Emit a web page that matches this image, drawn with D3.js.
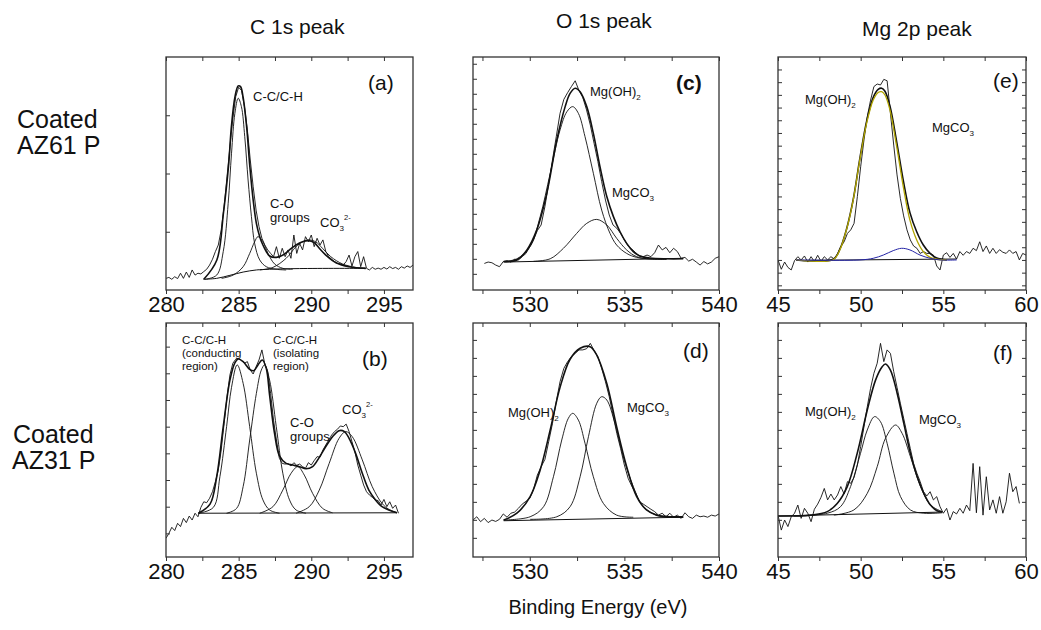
<!DOCTYPE html>
<html><head><meta charset="utf-8">
<script src="https://cdn.jsdelivr.net/npm/d3@7"></script>
<style>
body{margin:0;background:#fff;}
svg text{font-family:"Liberation Sans",Arial,Helvetica,sans-serif;fill:#111;}
</style></head>
<body><svg id="chart" width="1041" height="630"></svg>
<script>
// ---------------- DATA ----------------
const columnTitles = ["C 1s peak", "O 1s peak", "Mg 2p peak"];
const rowTitles = [["Coated", "AZ61 P"], ["Coated", "AZ31 P"]];
const xAxisTitle = "Binding Energy (eV)";
const xDomainC = [280, 297], xDomainO = [527, 540], xDomainMg = [45, 60];
const tickLabelsC = [280, 285, 290, 295], tickLabelsO = [530, 535, 540], tickLabelsMg = [45, 50, 55, 60];

// (a) Coated AZ61 P, C 1s  (raw spectrum on a 0.2 eV grid)
const aRawStart = 280.0, aRawStep = 0.2;
const aRaw = [5.0,5.4,4.6,5.7,4.9,7.2,5.0,7.7,5.4,8.6,
  6.4,7.2,6.9,7.9,8.9,10.7,13.2,16.5,19.3,25.8,
  35.8,48.6,61.5,73.7,83.0,87.0,85.6,78.7,68.7,55.8,
  44.3,34.3,27.2,22.2,19.3,17.2,15.7,14.3,18.6,13.6,
  17.9,14.3,17.2,13.6,23.6,15.7,20.0,17.2,22.9,20.7,
  23.6,18.6,22.2,19.3,21.5,16.5,14.3,13.2,12.2,11.4,
  11.2,10.7,12.2,15.0,10.3,14.3,16.5,10.0,14.3,9.3,
  8.6,9.7,8.9,9.4,8.9,9.7,9.0,10.0,9.2,9.7,
  8.9,10.0,9.4,10.3,9.7,10.7];
const aEnvelope = [[282.6,4.6],[283.5,12.9],[283.95,32.9],[284.3,52.9],[284.5,70],[284.75,83],[284.97,87.6],[285.13,87.3],[285.3,83],[285.55,70],[285.77,53],[286,38.6],[286.22,28.6],[286.45,22.9],[286.67,19.3],[286.9,16.5],[287.13,14.6],[287.6,14],[288.05,15],[288.5,17.2],[288.95,19.3],[289.4,20.7],[289.8,21.2],[290.2,20.3],[290.55,17.9],[291,15],[291.7,11.7],[292.6,10],[293.75,9.3]];
const aPeakCC = [[282.69,4.6],[283.49,6.4],[283.94,16.5],[284.28,37.2],[284.51,58.7],[284.74,75.8],[284.97,82.3],[285.19,78.7],[285.42,65.8],[285.65,47.2],[285.88,31.5],[286.1,20],[286.45,12.9],[286.9,10],[287.59,8.9],[288.27,8.6]];
const aPeakCO = [[283.83,5.0],[284.62,6.4],[285.31,10],[285.76,15.7],[286.1,20.7],[286.33,22.9],[286.67,20.7],[287.02,15.7],[287.47,11.2],[288.04,9.3],[288.72,8.9]];
const aPeakCO3 = [[286.45,8.6],[287.36,9.7],[288.27,13.6],[288.95,18.6],[289.41,20.7],[289.86,21.5],[290.32,20.6],[290.77,17.9],[291.34,14.3],[292.14,11.2],[293.05,9.7],[293.74,9.3]];
const aBackground = [[282.57,4.6],[283.49,5.0],[284.4,6.3],[285.31,7.7],[286.22,8.6],[287.13,8.9],[289.18,9.2],[293.74,9.3]];

// (c) Coated AZ61 P, O 1s
const cRawStart = 527.6, cRawStep = 0.2;
const cRaw = [11.4,12.0,11.7,10.7,10.0,12.2,12.6,12.0,13.2,12.9,
  14.3,15.7,18.6,21.5,25.5,27.9,35.8,45.8,55.8,65.8,
  75.8,81.8,84.7,87.3,89.8,85.6,82.7,77.3,70.8,62.9,
  55.1,46.5,38.6,32.2,27.9,26.5,24.3,21.5,18.9,17.5,
  16.0,14.6,14.3,15.0,14.3,16.0,19.3,17.2,18.3,16.0,
  17.9,16.5,13.6,14.0,12.4,13.2,12.0,10.7,12.2,11.2,
  12.0,13.6,14.3];
const cEnvelope = [[528.62,12.2],[529.32,12.9],[529.85,17.2],[530.37,25.8],[530.9,41.5],[531.43,64.4],[531.87,78.7],[532.13,84.4],[532.4,86.6],[532.66,85.1],[533.01,78.7],[533.36,67.2],[533.71,52.9],[534.07,40.1],[534.42,31.5],[534.77,25],[535.12,20],[535.47,16.5],[535.82,14.6],[536.35,13.7],[537.23,13.4],[538.11,13.4]];
const cPeakMgOH = [[528.62,12.2],[529.32,13.4],[530.02,18.6],[530.55,31.5],[531.08,50.1],[531.6,68.7],[531.96,76.5],[532.27,78.7],[532.57,75.8],[532.92,65.8],[533.36,50.1],[533.8,34.3],[534.24,24.3],[534.59,19.3],[535.12,15.7],[535.65,14],[536.35,13.4],[537.23,13.3]];
const cPeakMgCO3 = [[530.2,12.3],[531.08,13.4],[531.78,17.9],[532.48,24.3],[533.01,28.6],[533.54,30.3],[534.07,27.9],[534.59,22.2],[535.12,17.2],[535.65,14.3],[536.35,13.3],[537.23,13.2]];
const cBackground = [[528.62,12.0],[538.11,13.6]];

// (e) Coated AZ61 P, Mg 2p
const eRawStart = 45.0, eRawStep = 0.2;
const eRaw = [12.9,8.9,12.0,9.7,8.6,12.6,14.3,12.9,14.6,12.0,
  14.3,12.2,14.9,12.3,14.3,12.9,14.3,13.3,15.5,18.6,
  20.7,24.3,25.8,28.6,40.1,52.9,64.4,74.4,81.5,87.3,
  88.4,88.0,90.4,89.8,75.8,62.2,49.4,39.3,31.8,25.8,
  21.5,18.9,17.9,15.7,16.5,15.7,15.7,15.0,10.3,8.6,
  15.0,16.0,14.0,15.7,13.3,16.5,14.9,16.5,15.7,17.9,
  16.9,20.7,16.5,18.9,15.7,17.9,15.7,17.3,16.2,15.7,
  17.2,15.7,16.5,12.9,15.7,15.0];
const eEnvelope = [[46.11,12.9],[48.34,13.2],[48.74,17.5],[49.14,26],[49.55,38.9],[49.95,56.4],[50.36,72.4],[50.76,82.7],[51.06,86.1],[51.27,86.6],[51.47,85.3],[51.77,79],[52.18,63.5],[52.58,46.9],[52.98,33.2],[53.39,25],[53.79,19.3],[54.2,15.7],[54.6,13.7],[55.21,12.9]];
const ePeakMgOH = [[46.11,12.9],[48.34,13.0],[48.74,17.2],[49.14,25.8],[49.55,38.6],[49.95,55.8],[50.36,71.5],[50.76,81.5],[51.06,84.8],[51.27,85.1],[51.47,83.7],[51.77,77.3],[52.18,61.5],[52.58,44.3],[52.98,30],[53.39,21.5],[53.79,16.5],[54.2,14],[54.6,13.2],[55.21,12.9]];
const ePeakMgCO3 = [[46.11,12.9],[49.95,12.9],[50.76,13.6],[51.37,15],[51.97,16.9],[52.48,17.9],[52.98,17.2],[53.59,15],[54.2,13.6],[54.8,12.9],[55.81,12.9]];
const eBackground = [[46.11,12.7],[55.81,13.3]];

// (b) Coated AZ31 P, C 1s
const bRawStart = 280.0, bRawStep = 0.2;
const bRaw = [8.0,10.1,12.7,11.3,14.4,13.0,16.5,14.7,17.5,15.8,
  18.7,17.2,21.2,23.6,23.2,25.1,27.9,32.2,37.2,45.7,
  57.1,68.5,77.8,82.8,84.5,84.9,83.9,82.8,83.5,79.9,
  78.2,81.3,84.2,88.5,82.5,79.2,69.9,58.5,50.0,42.2,
  40.0,39.7,40.0,38.9,40.3,39.2,39.7,38.6,37.9,40.3,
  39.3,41.2,42.9,42.6,45.7,47.9,50.0,52.1,53.6,54.6,
  56.0,55.7,56.8,53.6,49.3,45.0,39.3,35.0,30.8,27.9,
  26.5,25.5,24.4,24.1,22.2,24.6,21.5,23.6,20.8,22.2,
  18.7];
const bEnvelope = [[282.23,18.7],[283.03,22.6],[283.49,34.3],[283.94,55.7],[284.4,75.6],[284.74,83],[284.97,84.6],[285.31,83.5],[285.76,80.2],[286.04,79.6],[286.33,82.1],[286.63,84.2],[286.9,80.6],[287.13,69.2],[287.47,52.8],[287.81,43.2],[288.27,40],[288.72,39.3],[289.18,38.6],[289.64,37.7],[290.09,38.6],[290.55,42.6],[291,47.2],[291.46,51.4],[291.91,54],[292.26,53.7],[292.6,50.7],[293.05,44.3],[293.51,35.8],[293.96,28.6],[294.42,24.4],[294.87,21.5],[295.33,20.1],[295.9,18.9]];
const bPeakConducting = [[282.23,18.7],[283.26,21.2],[283.71,34.3],[284.17,55.7],[284.51,72.5],[284.9,82.1],[285.31,74.2],[285.76,55.7],[286.22,35.8],[286.67,24.4],[287.13,20.1],[287.81,18.7]];
const bPeakIsolating = [[284.17,18.7],[284.85,20.7],[285.31,30.1],[285.76,50],[286.22,69.9],[286.56,79.9],[286.79,82.1],[287.13,75.6],[287.59,55.7],[288.04,35.8],[288.5,24.4],[288.95,20.1],[289.64,18.7]];
const bPeakCO = [[286.45,18.7],[287.36,21.5],[288.04,28.6],[288.61,35.8],[289.07,38.6],[289.52,35],[290.09,27.2],[290.77,20.8],[291.46,18.9]];
const bPeakCO3 = [[288.95,18.7],[289.86,21.5],[290.55,28.6],[291.23,40],[291.91,50.7],[292.37,53.6],[292.82,51.4],[293.51,41.5],[294.19,30.1],[294.87,22.9],[295.33,20.4],[295.9,18.9]];
const bBackground = [[282.23,18.7],[295.9,18.9]];

// (d) Coated AZ31 P, O 1s
const dRawStart = 527.0, dRawStep = 0.2;
const dRaw = [15.8,17.2,15.1,16.5,14.7,15.8,15.2,16.1,18.4,17.0,
  18.7,19.2,20.8,22.6,23.8,25.1,28.9,35.0,38.6,41.7,
  49.3,57.1,66.4,74.9,80.6,83.5,85.6,87.0,88.5,88.5,
  89.0,91.3,88.2,85.6,80.6,74.9,68.5,60.7,52.8,46.4,
  39.3,33.6,30.1,27.2,23.6,22.6,21.5,20.4,19.4,17.9,
  18.7,17.2,18.7,17.0,17.9,16.5,18.9,17.2,16.5,17.9,
  17.2,17.5,17.0,17.9,17.5,18.4];
const dEnvelope = [[528.62,15.8],[529.32,18.7],[530.02,25.8],[530.55,37.2],[531.08,54.3],[531.6,72.5],[532.13,84.5],[532.66,89.2],[533.19,89.9],[533.54,86.3],[534.07,74.2],[534.59,55.7],[535.12,38.6],[535.65,25.8],[536.17,20.1],[536.7,17.9],[537.4,17.2],[538.11,17.2]];
const dPeakMgOH = [[528.62,15.8],[530.02,17.2],[530.73,21.5],[531.25,34.3],[531.69,50],[532.04,59.3],[532.27,61.4],[532.57,58.5],[532.92,48.6],[533.36,34.3],[533.89,22.9],[534.59,17.9],[535.47,17.0]];
const dPeakMgCO3 = [[530.02,16.1],[531.43,17.2],[532.13,21.5],[532.66,34.3],[533.1,51.4],[533.54,65.7],[533.8,68.5],[534.07,67.1],[534.5,57.1],[534.94,42.9],[535.47,30.1],[536,21.5],[536.7,17.9],[537.4,17.2],[538.11,17.0]];
const dBackground = [[528.62,15.5],[538.11,17.0]];

// (f) Coated AZ31 P, Mg 2p
const fRawStart = 45.0, fRawStep = 0.2;
const fRaw = [17.9,11.5,15.8,13.0,17.2,18.7,22.2,16.5,20.8,18.7,
  15.1,20.4,22.6,25.5,29.3,24.4,26.9,24.4,26.5,30.1,
  26.9,32.2,31.5,34.0,39.3,47.2,55.7,64.2,72.1,78.5,
  82.8,91.3,83.5,88.5,87.0,79.2,72.5,65.7,59.3,52.8,
  46.4,40.0,35.8,32.2,27.9,26.1,27.9,24.4,25.8,21.5,
  18.7,20.8,15.8,19.4,18.4,20.8,18.7,22.2,19.8,40.0,
  18.9,38.6,17.9,34.3,20.1,24.4,18.7,25.8,18.7,23.6,
  35.8,27.9,30.1,22.9];
const fEnvelope = [[45.0,17.5],[46.97,17.9],[47.98,19.4],[48.58,22.9],[49.19,30.1],[49.79,44.3],[50.4,62.8],[50.9,75.6],[51.3,81.3],[51.5,82.5],[51.8,79.9],[52.21,69.9],[52.61,57.1],[53.01,44.3],[53.42,34.3],[53.82,27.2],[54.22,22.2],[54.62,19.8],[54.93,19.2]];
const fPeakMgOH = [[45.97,17.5],[47.98,18.7],[48.78,21.5],[49.39,30.1],[49.99,44.3],[50.4,54.3],[50.84,60],[51.2,57.8],[51.6,48.6],[52.01,35.8],[52.41,25.8],[53.01,20.1],[53.82,18.7],[54.93,18.9]];
const fPeakMgCO3 = [[48.38,17.9],[49.59,20.1],[50.4,27.2],[51,38.6],[51.5,50.7],[52.11,56.4],[52.51,52.8],[53.01,42.9],[53.62,30.1],[54.22,22.2],[54.93,19.4]];
const fBackground = [[45.0,17.5],[54.93,19.2]];

// ---------------- LAYOUT / STYLE ----------------
const W = 1041, H = 630;
const colX = [[166, 413], [473, 719], [778, 1026]];
const rowY = [[57, 290], [323, 557]];
const FONT_TICK = 22, FONT_LBL = 13, FONT_LETTER = 21;

const panels = [
  {letter:"(a)", col:0, row:0, dom:xDomainC, tickStart:280, labels:tickLabelsC,
   raw:{start:aRawStart, step:aRawStep, values:aRaw},
   fits:[{d:aBackground,w:1},{d:aPeakCC,w:0.9},{d:aPeakCO,w:0.9},{d:aPeakCO3,w:0.9},{d:aEnvelope,w:1.6}],
   yt:{start:0, step:25}, rightTicks:false, letterPos:[368,90],
   notes:[{x:253,y:101,lines:["C-C/C-H"]},{x:270,y:208,lines:["C-O","groups"]},{x:320,y:227,lines:["CO_3^2-"]}]},
  {letter:"(c)", col:1, row:0, dom:xDomainO, tickStart:527.5, labels:tickLabelsO,
   raw:{start:cRawStart, step:cRawStep, values:cRaw},
   fits:[{d:cBackground,w:1},{d:cPeakMgOH,w:0.9},{d:cPeakMgCO3,w:0.9},{d:cEnvelope,w:1.6}],
   yt:{start:0.5, step:6.44}, rightTicks:false, letterPos:[676,90], bold:true,
   notes:[{x:590,y:96,lines:["Mg(OH)_2"]},{x:612,y:197,lines:["MgCO_3"]}]},
  {letter:"(e)", col:2, row:0, dom:xDomainMg, tickStart:45, labels:tickLabelsMg,
   raw:{start:eRawStart, step:eRawStep, values:eRaw},
   fits:[{d:eBackground,w:1},{d:eEnvelope,w:1.6},{d:ePeakMgOH,w:1.3,c:"#b0a400"},{d:ePeakMgCO3,w:1,c:"#2424a6"}],
   yt:{start:2, step:5.45}, rightTicks:true, letterPos:[993,88],
   notes:[{x:805,y:104,lines:["Mg(OH)_2"]},{x:932,y:132,lines:["MgCO_3"]}]},
  {letter:"(b)", col:0, row:1, dom:xDomainC, tickStart:280, labels:tickLabelsC,
   raw:{start:bRawStart, step:bRawStep, values:bRaw},
   fits:[{d:bBackground,w:1},{d:bPeakConducting,w:0.9},{d:bPeakIsolating,w:0.9},{d:bPeakCO,w:0.9},{d:bPeakCO3,w:0.9},{d:bEnvelope,w:1.6}],
   yt:{start:10.1, step:11.4}, rightTicks:false, letterPos:[362,366],
   notes:[{x:182,y:344,lines:["C-C/C-H","(conducting","region)"],lh:13,fs:11.5},
          {x:273,y:344,lines:["C-C/C-H","(isolating","region)"],lh:13,fs:11.5},
          {x:290,y:427,lines:["C-O","groups"]},{x:342,y:414,lines:["CO_3^2-"]}]},
  {letter:"(d)", col:1, row:1, dom:xDomainO, tickStart:527.5, labels:tickLabelsO,
   raw:{start:dRawStart, step:dRawStep, values:dRaw},
   fits:[{d:dBackground,w:1},{d:dPeakMgOH,w:0.9},{d:dPeakMgCO3,w:0.9},{d:dEnvelope,w:1.6}],
   yt:{start:0.5, step:7.69}, rightTicks:false, letterPos:[683,358],
   notes:[{x:508,y:417,lines:["Mg(OH)_2"]},{x:627,y:412,lines:["MgCO_3"]}]},
  {letter:"(f)", col:2, row:1, dom:xDomainMg, tickStart:45, labels:tickLabelsMg,
   raw:{start:fRawStart, step:fRawStep, values:fRaw},
   fits:[{d:fBackground,w:1},{d:fPeakMgOH,w:0.9},{d:fPeakMgCO3,w:0.9},{d:fEnvelope,w:1.6}],
   yt:{start:0.5, step:7.69}, rightTicks:true, letterPos:[993,360],
   notes:[{x:805,y:416,lines:["Mg(OH)_2"]},{x:919,y:424,lines:["MgCO_3"]}]}
];

// ---------------- DRAW ----------------
const svg = d3.select("#chart");
svg.append("rect").attr("width", W).attr("height", H).attr("fill", "#fff");

function chemText(g, x, y, str, size) {
  const m = str.match(/^([^_^]*)(?:_([^^]*))?(?:\^(.*))?$/);
  const t = g.append("text").attr("x", x).attr("y", y).style("font-size", size + "px");
  t.append("tspan").text(m[1]);
  if (m[2]) t.append("tspan").attr("dy", size * 0.3).style("font-size", (size * 0.62) + "px").text(m[2]);
  if (m[3]) t.append("tspan").attr("dy", m[2] ? -size * 0.85 : -size * 0.4)
     .style("font-size", (size * 0.58) + "px").text(m[3]);
  return t;
}

panels.forEach((p, i) => {
  const [x0, x1] = colX[p.col], [y0, y1] = rowY[p.row];
  const x = d3.scaleLinear().domain(p.dom).range([x0, x1]);
  const y = d3.scaleLinear().domain([0, 100]).range([y1, y0]);
  const g = svg.append("g");
  const clipId = "clip" + i;
  g.append("clipPath").attr("id", clipId).append("rect")
    .attr("x", x0).attr("y", y0).attr("width", x1 - x0).attr("height", y1 - y0);

  const plot = g.append("g").attr("clip-path", `url(#${clipId})`);

  // raw spectrum
  const rawPts = p.raw.values.map((v, k) => [p.raw.start + k * p.raw.step, v]);
  plot.append("path").attr("d", d3.line().x(d => x(d[0])).y(d => y(d[1]))(rawPts))
    .attr("fill", "none").attr("stroke", "#111").attr("stroke-width", 0.9).attr("stroke-linejoin", "round");

  // fitted components
  p.fits.forEach(f => {
    plot.append("path").attr("d", d3.line().x(d => x(d[0])).y(d => y(d[1])).curve(d3.curveCatmullRom.alpha(0.5))(f.d))
      .attr("fill", "none").attr("stroke", f.c || "#111").attr("stroke-width", f.w);
  });

  // frame
  g.append("rect").attr("x", x0).attr("y", y0).attr("width", x1 - x0).attr("height", y1 - y0)
    .attr("fill", "none").attr("stroke", "#333").attr("stroke-width", 1.3);

  // axes
  const xt = d3.range(p.tickStart, p.dom[1] + 0.01, 2.5);
  const bottom = d3.axisBottom(x).tickValues(xt).tickSize(4).tickPadding(2)
    .tickFormat(v => p.labels.includes(v) ? String(v) : "");
  const ga = g.append("g").attr("transform", `translate(0,${y1})`).call(bottom);
  ga.select(".domain").remove();
  ga.selectAll("line").attr("stroke", "#333");
  ga.selectAll("text").style("font-size", FONT_TICK + "px").attr("fill", "#111")
    .attr("font-family", "Liberation Sans, Arial, sans-serif");

  const top = d3.axisTop(x).tickValues(xt).tickSize(-4).tickFormat("");
  const gt = g.append("g").attr("transform", `translate(0,${y0})`).call(top);
  gt.select(".domain").remove(); gt.selectAll("line").attr("stroke", "#333");

  const yv = d3.range(p.yt.start, 100, p.yt.step).filter(v => v > 0.5);
  const left = d3.axisLeft(y).tickValues(yv).tickSize(-4).tickFormat("");
  const gl = g.append("g").attr("transform", `translate(${x0},0)`).call(left);
  gl.select(".domain").remove(); gl.selectAll("line").attr("stroke", "#333");
  if (p.rightTicks) {
    const right = d3.axisRight(y).tickValues(yv).tickSize(-4).tickFormat("");
    const gr = g.append("g").attr("transform", `translate(${x1},0)`).call(right);
    gr.select(".domain").remove(); gr.selectAll("line").attr("stroke", "#333");
  }

  // panel letter
  g.append("text").attr("x", p.letterPos[0]).attr("y", p.letterPos[1])
    .style("font-size", FONT_LETTER + "px").style("font-weight", p.bold ? "bold" : "normal").text(p.letter);

  // annotations
  p.notes.forEach(n => {
    n.lines.forEach((ln, k) => chemText(g, n.x, n.y + k * (n.lh || 14), ln, n.fs || FONT_LBL));
  });
});

// column titles
const titlePos = [[250, 34], [556, 28], [862, 36]];
columnTitles.forEach((t, i) => svg.append("text").attr("x", titlePos[i][0]).attr("y", titlePos[i][1])
  .style("font-size", "21px").text(t));

// row titles
const rowPos = [[[17, 128], [17, 154]], [[13, 443], [12, 469]]];
rowTitles.forEach((lines, r) => lines.forEach((t, k) =>
  svg.append("text").attr("x", rowPos[r][k][0]).attr("y", rowPos[r][k][1]).style("font-size", "25px").text(t)));

// x axis title
svg.append("text").attr("x", 598).attr("y", 614).attr("text-anchor", "middle").style("font-size", "20px").text(xAxisTitle);
</script>
</body></html>
